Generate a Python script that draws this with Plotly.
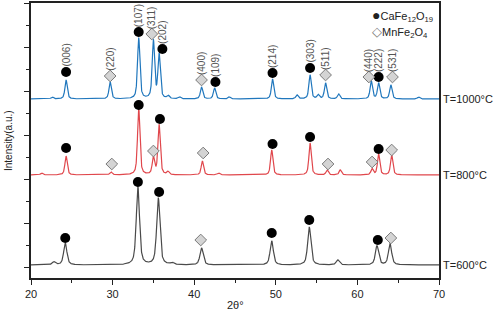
import numpy as np
import plotly.graph_objects as go

# ---------------- data ----------------
two_theta_min, two_theta_max = 20, 70

# T=1000°C (blue)
base_1000 = 179
pk_pos_1000 = [22.6, 24.3, 29.7, 33.2, 35.0, 35.7, 36.8, 38.2, 40.9, 42.5, 44.3, 49.6, 52.6, 54.2, 55.2, 56.1, 57.7, 61.7, 62.6, 64.1, 67.5]
pk_h_1000 = [2, 19, 17, 61, 58, 44, 3, 2, 12, 11, 2, 20, 4, 24, 4, 16, 5, 18, 16, 14, 2]

# T=800°C (red)
base_800 = 103
pk_pos_800 = [21.3, 24.3, 29.8, 33.2, 35.0, 35.7, 36.8, 41.0, 43.0, 49.5, 54.2, 56.3, 57.9, 61.8, 62.6, 64.2]
pk_h_800 = [2, 19, 3, 67, 17, 50, 3, 14, 2, 25, 32, 5, 5, 6, 21, 20]

# T=600°C (black)
base_600 = 13
pk_pos_600 = [22.8, 24.2, 33.1, 35.6, 37.3, 40.9, 49.5, 54.1, 57.6, 62.4, 64.0]
pk_h_600 = [3, 22, 78, 67, 2, 17, 24, 38, 5, 19, 21]

# marker positions (2θ, intensity)
circ_x_1000 = [24.3, 33.2, 36.1, 42.6, 49.6, 54.2, 62.6]
circ_y_1000 = [206, 246, 229, 196, 205, 210, 201]
dia_x_1000 = [29.7, 34.8, 40.9, 56.1, 61.4, 64.3]
dia_y_1000 = [202, 244, 198, 203, 201, 201]

lab_1000 = ["(006)", "(107)", "(202)", "(109)", "(214)", "(303)", "(222)",
            "(220)", "(311)", "(400)", "(511)", "(440)", "(531)"]

circ_x_800 = [24.3, 33.2, 35.8, 49.6, 54.2, 62.6]
circ_y_800 = [130, 173, 159, 134, 141, 129]
dia_x_800 = [29.9, 35.0, 41.1, 56.4, 61.8, 64.2]
dia_y_800 = [114, 127, 125, 114, 116, 128]

circ_x_600 = [24.2, 33.1, 35.7, 49.5, 54.1, 62.5]
circ_y_600 = [40, 96, 86, 45, 58, 38]
dia_x_600 = [40.8, 64.1]
dia_y_600 = [38, 40]

x_ticks = [20, 30, 40, 50, 60, 70]

# ---------------- build ----------------
x = np.linspace(two_theta_min, two_theta_max, 2501)


def profile(base, pos, h, w):
    y = np.full_like(x, float(base))
    for p, hh in zip(pos, h):
        d = (x - p) / (w / 2)
        y += hh * (0.6 / (1 + d ** 2) + 0.4 * np.exp(-np.log(2) * d ** 2))
    return y


y_1000 = profile(base_1000, pk_pos_1000, pk_h_1000, 0.34)
y_800 = profile(base_800, pk_pos_800, pk_h_800, 0.34)
y_600 = profile(base_600, pk_pos_600, pk_h_600, 0.47)

fig = go.Figure()
for yy, col in [(y_1000, "#2077bd"), (y_800, "#e0474c"), (y_600, "#4a4a4a")]:
    fig.add_trace(go.Scatter(x=x, y=yy, mode="lines", line=dict(color=col, width=1.2),
                             showlegend=False, hoverinfo="skip"))

cx = circ_x_1000 + circ_x_800 + circ_x_600
cy = circ_y_1000 + circ_y_800 + circ_y_600
dx = dia_x_1000 + dia_x_800 + dia_x_600
dy = dia_y_1000 + dia_y_800 + dia_y_600

fig.add_trace(go.Scatter(x=cx, y=cy, mode="markers",
                         marker=dict(symbol="circle", size=10, color="black"),
                         showlegend=False, hoverinfo="skip"))
fig.add_trace(go.Scatter(x=dx, y=dy, mode="markers",
                         marker=dict(symbol="diamond", size=9, color="#d4d4d4",
                                     line=dict(color="#7a7a7a", width=1)),
                         showlegend=False, hoverinfo="skip"))

FONT = "Liberation Sans, Arial"

# labels above the blue-curve markers
lab_x = circ_x_1000 + dia_x_1000
lab_y = circ_y_1000 + dia_y_1000
for t, lx, ly in zip(lab_1000, lab_x, lab_y):
    fig.add_annotation(x=lx, y=ly, text=t, textangle=-90, showarrow=False,
                       xanchor="center", yanchor="bottom", yshift=3,
                       font=dict(size=10, color="#555555", family=FONT))

# temperature labels
for t, yv in [("T=1000°C", base_1000), ("T=800°C", base_800), ("T=600°C", base_600)]:
    fig.add_annotation(x=1, xref="paper", y=yv, yref="y", text=t, showarrow=False,
                       xanchor="left", yanchor="middle", xshift=2,
                       font=dict(size=11, color="#222222", family=FONT))

# axis titles
fig.add_annotation(x=0.5, xref="paper", y=0, yref="paper", text="2θ°", showarrow=False,
                   xanchor="center", yanchor="top", yshift=-19,
                   font=dict(size=11, color="#222222", family=FONT))
fig.add_annotation(x=0, xref="paper", y=0.5, yref="paper", text="Intensity(a.u.)",
                   textangle=-90, showarrow=False, xanchor="right", yanchor="middle",
                   xshift=-15, font=dict(size=10, color="#222222", family=FONT))

# legend (manual)
fig.add_annotation(x=0.83, xref="paper", y=0.955, yref="paper",
                   text="<span style='font-size:14px'>●</span>CaFe<sub>12</sub>O<sub>19</sub>",
                   showarrow=False, xanchor="left", yanchor="middle",
                   font=dict(size=11, color="#222222", family=FONT))
fig.add_annotation(x=0.83, xref="paper", y=0.895, yref="paper",
                   text="<span style='color:#777777;font-size:13px'>◇</span>MnFe<sub>2</sub>O<sub>4</sub>",
                   showarrow=False, xanchor="left", yanchor="middle",
                   font=dict(size=11, color="#222222", family=FONT))

fig.update_layout(
    width=498, height=314,
    margin=dict(l=31, r=59, t=3, b=36, autoexpand=False),
    paper_bgcolor="white", plot_bgcolor="white",
    font=dict(family=FONT, color="#222222", size=11),
    showlegend=False,
)
fig.update_xaxes(range=[two_theta_min, two_theta_max], tickvals=x_ticks, automargin=False,
                 showline=True, linecolor="#222222", linewidth=1.5, mirror=True,
                 ticks="outside", ticklen=5, tickcolor="#222222",
                 minor=dict(dtick=5, ticks="outside", ticklen=3, tickcolor="#222222"),
                 showgrid=False, zeroline=False, tickfont=dict(size=11))
fig.update_yaxes(range=[0, 275], tick0=11, dtick=44, showticklabels=False, automargin=False,
                 showline=True, linecolor="#222222", linewidth=1.5, mirror=True,
                 ticks="outside", ticklen=5, tickcolor="#222222",
                 minor=dict(tick0=11, dtick=22, ticks="outside", ticklen=3, tickcolor="#222222"),
                 showgrid=False, zeroline=False)

fig.write_html("out.html", config={"displayModeBar": False},
               post_script="document.body.style.margin='0';")
